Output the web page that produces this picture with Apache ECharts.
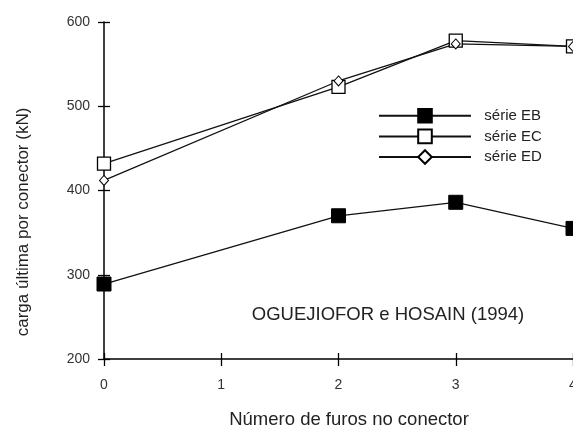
<!DOCTYPE html>
<html>
<head>
<meta charset="utf-8">
<script src="https://cdn.jsdelivr.net/npm/echarts@6/dist/echarts.min.js"></script>
<style>html,body{margin:0;padding:0;background:#fff;overflow:hidden}#c{width:573px;height:432px}</style>
</head>
<body>
<div id="c"></div>
<script>
var xValues = [0, 2, 3, 4];
var serieEB = [289, 370, 386, 355];
var serieEC = [432, 523, 578, 571];
var serieED = [412, 530, 574, 571];
var seriesNames = ['série EB', 'série EC', 'série ED'];
var yTicks = {min: 200, max: 600, interval: 100};
var xTicks = {min: 0, max: 4, interval: 1};

function pairs(vals) { return xValues.map(function (x, i) { return [x, vals[i]]; }); }

var font = 'Liberation Sans, Arial, sans-serif';
var chart = echarts.init(document.getElementById('c'), null, {renderer: 'canvas'});
var axisLine = {show: true, lineStyle: {color: '#000', width: 1.5}};
var lineStyle = {color: '#111', width: 1.3};

chart.setOption({
  animation: false,
  backgroundColor: '#fff',
  grid: {left: 104, right: 0, top: 22, bottom: 73, containLabel: false, outerBoundsMode: 'none'},
  xAxis: [
    {type: 'value', min: xTicks.min, max: xTicks.max, interval: xTicks.interval,
     axisLine: axisLine, splitLine: {show: false},
     axisTick: {show: true, inside: false, length: 7, lineStyle: {color: '#000', width: 1.3}},
     axisLabel: {margin: 19, color: '#333', fontSize: 14, fontFamily: font, hideOverlap: false}},
    {type: 'value', min: xTicks.min, max: xTicks.max, interval: xTicks.interval, position: 'bottom',
     axisLine: {show: false}, splitLine: {show: false},
     axisTick: {show: true, inside: true, length: 6, lineStyle: {color: '#000', width: 1.3}},
     axisLabel: {show: false}}
  ],
  yAxis: [
    {type: 'value', min: yTicks.min, max: yTicks.max, interval: yTicks.interval,
     axisLine: axisLine, splitLine: {show: false},
     axisTick: {show: true, inside: false, length: 6, lineStyle: {color: '#000', width: 1.3}},
     axisLabel: {margin: 14, color: '#333', fontSize: 14, fontFamily: font}},
    {type: 'value', min: yTicks.min, max: yTicks.max, interval: yTicks.interval, position: 'left',
     axisLine: {show: false}, splitLine: {show: false},
     axisTick: {show: true, inside: true, length: 6, lineStyle: {color: '#000', width: 1.3}},
     axisLabel: {show: false}}
  ],
  legend: {
    orient: 'vertical', left: 373, top: 103, itemWidth: 92, itemHeight: 17, itemGap: 5,
    data: seriesNames,
    formatter: function (n) { return '  ' + n; },
    textStyle: {fontSize: 15, fontFamily: font, color: '#222'}
  },
  graphic: [
    {type: 'text', style: {text: 'OGUEJIOFOR e HOSAIN (1994)', font: '18.5px ' + font, fill: '#222', textAlign: 'center', textVerticalAlign: 'middle'}, x: 388, y: 315},
    {type: 'text', style: {text: 'Número de furos no conector', font: '18.5px ' + font, fill: '#222', textAlign: 'center', textVerticalAlign: 'middle'}, x: 349, y: 420},
    {type: 'text', rotation: Math.PI / 2, style: {text: 'carga última por conector (kN)', font: '17px ' + font, fill: '#222', textAlign: 'center', textVerticalAlign: 'middle'}, x: 23, y: 222}
  ],
  series: [
    {name: seriesNames[0], type: 'line', data: pairs(serieEB), symbol: 'rect', symbolSize: 14,
     lineStyle: lineStyle, itemStyle: {color: '#000', borderColor: '#000', borderWidth: 1}},
    {name: seriesNames[1], type: 'line', data: pairs(serieEC), symbol: 'rect', symbolSize: 13,
     lineStyle: lineStyle, itemStyle: {color: '#fff', borderColor: '#000', borderWidth: 1.3}},
    {name: seriesNames[2], type: 'line', data: pairs(serieED), symbol: 'diamond', symbolSize: [9, 10],
     lineStyle: lineStyle, itemStyle: {color: '#fff', borderColor: '#000', borderWidth: 1}}
  ]
});
</script>
</body>
</html>
